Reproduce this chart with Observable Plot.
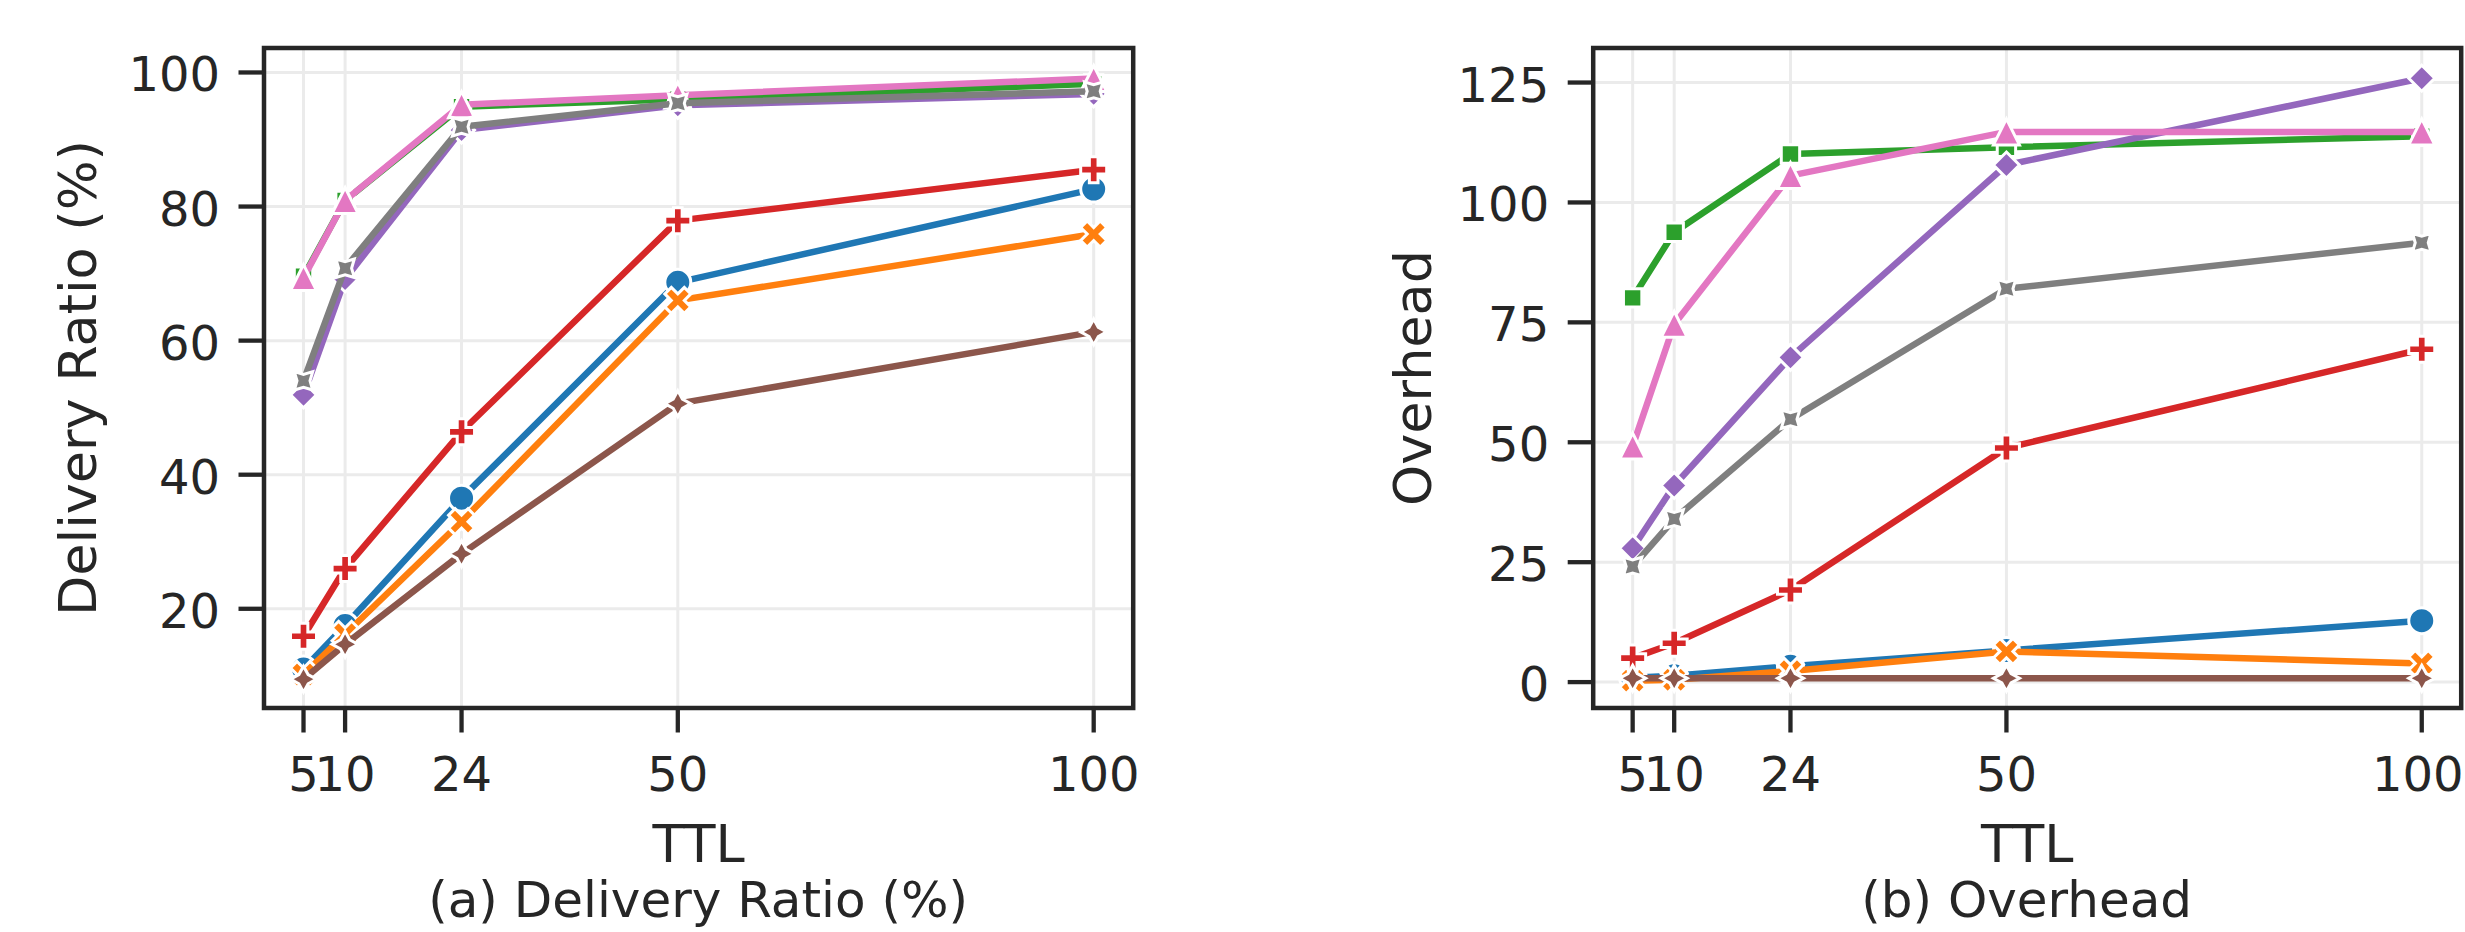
<!DOCTYPE html>
<html><head><meta charset="utf-8">
<script src="https://cdn.jsdelivr.net/npm/d3@7"></script>
<script src="https://cdn.jsdelivr.net/npm/@observablehq/plot@0.6"></script>
<style>
html,body{margin:0;padding:0;background:#fff;overflow:hidden;}
#wrap{display:flex;width:2465px;height:932px;overflow:hidden;}
.panel{position:relative;flex:none;}
.cap{font-family:"DejaVu Sans";font-size:50px;color:#262626;text-align:center;line-height:54px;margin-top:-3px;white-space:nowrap;}
</style></head><body><div id="wrap"></div>
<script>
// ---- data ----
const ttl = [5, 10, 24, 50, 100];
const seriesNames = ["S1", "S2", "S3", "S4", "S5", "S6", "S7", "S8"];
const seriesColors = ["#1f77b4", "#ff7f0e", "#2ca02c", "#d62728", "#9467bd", "#8c564b", "#e377c2", "#7f7f7f"];

// (a) Delivery Ratio (%)
const delivery_S1 = [11.0, 17.5, 36.5, 68.7, 82.6];
const delivery_S2 = [10.2, 16.2, 33.0, 66.0, 75.9];
const delivery_S3 = [69.6, 80.9, 94.9, 96.0, 98.3];
const delivery_S4 = [15.9, 26.0, 46.4, 77.9, 85.5];
const delivery_S5 = [51.9, 69.2, 91.4, 95.1, 96.8];
const delivery_S6 = [9.5, 14.7, 28.2, 50.6, 61.3];
const delivery_S7 = [69.4, 80.9, 95.2, 96.6, 99.1];
const delivery_S8 = [54.0, 70.8, 91.9, 95.4, 97.2];

// (b) Overhead
const overhead_S1 = [0.9, 1.3, 3.3, 6.6, 12.8];
const overhead_S2 = [0.3, 0.5, 2.3, 6.4, 3.9];
const overhead_S3 = [80.1, 93.8, 110.1, 111.5, 113.8];
const overhead_S4 = [5.0, 8.1, 19.2, 48.8, 69.4];
const overhead_S5 = [27.9, 41.0, 67.7, 107.8, 125.9];
const overhead_S6 = [0.8, 0.8, 0.8, 0.8, 0.8];
const overhead_S7 = [49.2, 74.6, 105.6, 114.7, 114.7];
const overhead_S8 = [24.1, 34.0, 54.8, 82.0, 91.6];

const deliveryTicks = [20, 40, 60, 80, 100];
const overheadTicks = [0, 25, 50, 75, 100, 125];

// ---- marker shapes (matplotlib/seaborn style) ----
function poly(pts) {
  return {draw(ctx, size) {
    const h = Math.sqrt(size / Math.PI);
    ctx.moveTo(pts[0][0] * h, pts[0][1] * h);
    for (let i = 1; i < pts.length; i++) ctx.lineTo(pts[i][0] * h, pts[i][1] * h);
    ctx.closePath();
  }};
}
const s2 = Math.SQRT1_2, q = 0.5 * Math.SQRT1_2;
const symbols = [
  d3.symbolCircle,
  poly([[-0.5,-1],[0,-0.5],[0.5,-1],[1,-0.5],[0.5,0],[1,0.5],[0.5,1],[0,0.5],[-0.5,1],[-1,0.5],[-0.5,0],[-1,-0.5]]),
  poly([[s2,s2],[-s2,s2],[-s2,-s2],[s2,-s2]]),
  poly([[-1/3,-1],[1/3,-1],[1/3,-1/3],[1,-1/3],[1,1/3],[1/3,1/3],[1/3,1],[-1/3,1],[-1/3,1/3],[-1,1/3],[-1,-1/3],[-1/3,-1/3]]),
  poly([[0,-1],[1,0],[0,1],[-1,0]]),
  poly([[0,-1],[q,-q],[1,0],[q,q],[0,1],[-q,q],[-1,0],[-q,-q]]),
  poly([[0,-1],[1,1],[-1,1]]),
  poly([[s2,-s2],[0.5,0],[s2,s2],[0,0.5],[-s2,s2],[-0.5,0],[-s2,-s2],[0,-0.5]])
];

const INK = "#262626";

function makePanel({values, yDomain, yTicks, yLabel, caption, width, mL, mR, labelDx, lastTickDx}) {
  const rows = [];
  seriesNames.forEach((s, si) => values[si].forEach((v, i) => rows.push({series: s, ttl: ttl[i], value: v})));
  const marks = [
    Plot.gridX(ttl, {stroke: "#ebebeb", strokeOpacity: 1, strokeWidth: 3}),
    Plot.gridY(yTicks, {stroke: "#ebebeb", strokeOpacity: 1, strokeWidth: 3})
  ];
  seriesNames.forEach((s, si) => {
    const d = rows.filter(r => r.series === s);
    marks.push(Plot.line(d, {x: "ttl", y: "value", stroke: seriesColors[si], strokeWidth: 6.5, strokeLinejoin: "round", strokeLinecap: "butt"}));
    marks.push(Plot.dot(d, {x: "ttl", y: "value", fill: seriesColors[si], stroke: "white", strokeWidth: 3, r: 13, symbol: symbols[si]}));
  });
  marks.push(Plot.frame({stroke: INK, strokeWidth: 4.5}));
  marks.push(Plot.axisX(ttl, {tickSize: 25, strokeWidth: 4.3, stroke: INK, fill: "none", label: null}));
  marks.push(Plot.axisX(ttl.slice(0, -1), {tickSize: 25, tickPadding: 24, stroke: "none", fill: INK, fontSize: 48, label: null}));
  marks.push(Plot.axisX(ttl.slice(-1), {tickSize: 25, tickPadding: 24, stroke: "none", fill: INK, fontSize: 48, dx: lastTickDx, label: null}));
  marks.push(Plot.axisY(yTicks, {tickSize: 25, strokeWidth: 4.3, stroke: INK, fill: "none", label: null}));
  marks.push(Plot.axisY(yTicks, {tickSize: 25, tickPadding: 19, stroke: "none", fill: INK, fontSize: 48, dy: 3.6, label: null}));
  marks.push(Plot.text(["TTL"], {text: d => d, frameAnchor: "bottom", lineAnchor: "bottom", textAnchor: "middle", dy: 154.2, fontSize: 52.4, fill: INK}));
  marks.push(Plot.text([yLabel], {text: d => d, frameAnchor: "left", rotate: -90, lineAnchor: "bottom", textAnchor: "middle", dx: labelDx, fontSize: 52.4, fill: INK}));

  const svg = Plot.plot({
    width, height: 876,
    marginLeft: mL, marginRight: mR, marginTop: 47.5, marginBottom: 168.5,
    x: {domain: [0.25, 104.75], label: null},
    y: {domain: yDomain, label: null},
    style: {fontFamily: "DejaVu Sans", color: INK, background: "white", overflow: "visible"},
    marks
  });
  const panel = document.createElement("div");
  panel.className = "panel";
  panel.style.width = width + "px";
  panel.appendChild(svg);
  const cap = document.createElement("div");
  cap.className = "cap";
  cap.style.marginLeft = mL + "px";
  cap.style.width = (width - mL - mR) + "px";
  cap.textContent = caption;
  panel.appendChild(cap);
  return panel;
}

const wrap = document.getElementById("wrap");
wrap.appendChild(makePanel({
  values: [delivery_S1, delivery_S2, delivery_S3, delivery_S4, delivery_S5, delivery_S6, delivery_S7, delivery_S8],
  yDomain: [5.2, 103.65], yTicks: deliveryTicks, yLabel: "Delivery Ratio (%)",
  caption: "(a) Delivery Ratio (%)", width: 1232, mL: 263.5, mR: 99.3, labelDx: -168, lastTickDx: 0
}));
wrap.appendChild(makePanel({
  values: [overhead_S1, overhead_S2, overhead_S3, overhead_S4, overhead_S5, overhead_S6, overhead_S7, overhead_S8],
  yDomain: [-5.4, 132.2], yTicks: overheadTicks, yLabel: "Overhead",
  caption: "(b) Overhead", width: 1233, mL: 360.7, mR: 4.3, labelDx: -162.7, lastTickDx: -4
}));
</script></body></html>
